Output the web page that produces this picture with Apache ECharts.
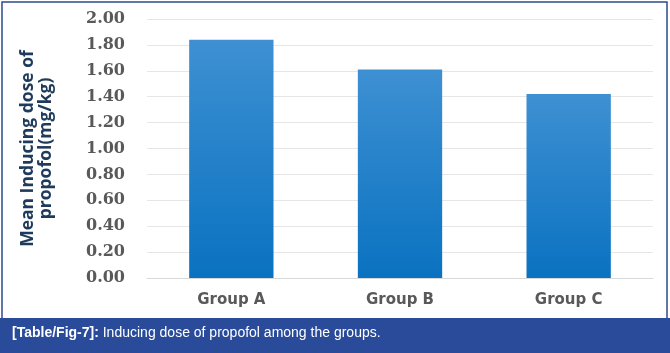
<!DOCTYPE html>
<html>
<head>
<meta charset="utf-8">
<script src="https://cdn.jsdelivr.net/npm/echarts@6/dist/echarts.min.js"></script>
<style>
  html, body { margin: 0; padding: 0; background: #fff; }
  #chart { width: 670px; height: 353px; }
</style>
</head>
<body>
<div id="chart"></div>
<script>
// data
var groups = ['Group A', 'Group B', 'Group C'];
var doses = [1.84, 1.61, 1.42];

var myChart = echarts.init(document.getElementById('chart'));

var option = {
  backgroundColor: '#fff',
  animation: false,
  grid: { left: 147, right: 17, top: 19, bottom: 75 },
  xAxis: {
    type: 'category',
    data: groups,
    axisLine: { show: true, lineStyle: { color: '#d9d9d9' } },
    axisTick: { show: false },
    axisLabel: {
      margin: 15,
      color: '#595959',
      fontFamily: 'DejaVu Sans',
      fontWeight: 'bold',
      fontSize: 15
    }
  },
  yAxis: {
    type: 'value',
    min: 0,
    max: 2,
    interval: 0.2,
    name: 'Mean Inducing dose of\npropofol(mg/kg)',
    nameLocation: 'middle',
    nameGap: 92,
    nameRotate: 90,
    nameTextStyle: {
      color: '#1f3b5c',
      fontFamily: 'Open Sans',
      fontWeight: 'bold',
      fontSize: 17.5,
      lineHeight: 18
    },
    axisLine: { show: false },
    axisTick: { show: false },
    splitLine: { lineStyle: { color: '#e6e6e6' } },
    axisLabel: {
      margin: 22,
      color: '#595959',
      fontFamily: 'DejaVu Serif',
      fontWeight: 'bold',
      fontSize: 16,
      formatter: function (v) { return v.toFixed(2); }
    }
  },
  series: [{
    type: 'bar',
    data: doses,
    barWidth: '50%',
    itemStyle: {
      color: new echarts.graphic.LinearGradient(0, 0, 0, 1, [
        { offset: 0, color: '#3e90d2' },
        { offset: 1, color: '#0a72c1' }
      ])
    }
  }],
  graphic: [
    {
      type: 'rect',
      shape: { x: 2, y: 2, width: 665, height: 318 },
      style: { fill: 'none', stroke: '#2b4c8c', lineWidth: 1.5 },
      z: 10
    },
    {
      type: 'rect',
      shape: { x: 0, y: 318, width: 670, height: 35 },
      style: { fill: '#294b9a' },
      z: 11
    },
    {
      type: 'text',
      left: 12,
      top: 326,
      z: 12,
      style: {
        text: '{b|[Table/Fig-7]:} Inducing dose of propofol among the groups.',
        fill: '#fff',
        font: '14px "Liberation Sans", sans-serif',
        rich: {
          b: { fontWeight: 'bold', fill: '#fff', fontSize: 14, fontFamily: 'Liberation Sans' }
        }
      }
    }
  ]
};

myChart.setOption(option);
</script>
</body>
</html>
